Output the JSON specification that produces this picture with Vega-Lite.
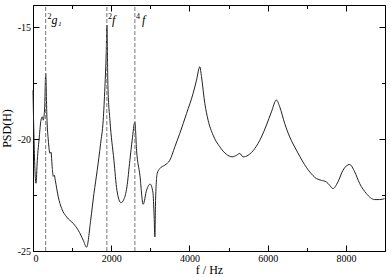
{
  "$schema": "https://vega.github.io/schema/vega-lite/v6.json",
  "width": 352,
  "height": 246,
  "autosize": {"type": "none"},
  "padding": {"left": 33, "top": 5, "right": 6, "bottom": 26},
  "background": "white",
  "config": {
    "view": {"stroke": "black", "strokeWidth": 1},
    "font": "Liberation Serif",
    "axis": {
      "domain": false,
      "grid": false,
      "labelFont": "Liberation Serif",
      "labelFontSize": 10,
      "labelColor": "black",
      "titleFont": "Liberation Serif",
      "titleFontSize": 12,
      "titleFontWeight": "normal",
      "titleColor": "black",
      "tickColor": "black",
      "tickWidth": 1
    }
  },
  "datasets": {
    "psd": [
      {"f": 0, "psd": -17.81}, {"f": 26, "psd": -20.04}, {"f": 77, "psd": -21.97},
      {"f": 110, "psd": -20.94}, {"f": 161, "psd": -19.9}, {"f": 204, "psd": -19.15},
      {"f": 238, "psd": -19.0}, {"f": 263, "psd": -19.15}, {"f": 299, "psd": -18.55},
      {"f": 324, "psd": -17.06}, {"f": 358, "psd": -19.15}, {"f": 391, "psd": -20.04},
      {"f": 434, "psd": -20.63}, {"f": 460, "psd": -20.58}, {"f": 493, "psd": -21.3},
      {"f": 518, "psd": -21.66}, {"f": 544, "psd": -21.61}, {"f": 570, "psd": -21.84},
      {"f": 646, "psd": -22.58}, {"f": 733, "psd": -23.1}, {"f": 861, "psd": -23.48},
      {"f": 1029, "psd": -23.77}, {"f": 1157, "psd": -24.07}, {"f": 1285, "psd": -24.52},
      {"f": 1371, "psd": -24.83}, {"f": 1474, "psd": -23.63}, {"f": 1558, "psd": -22.43},
      {"f": 1642, "psd": -21.39}, {"f": 1729, "psd": -20.19}, {"f": 1795, "psd": -19.15},
      {"f": 1839, "psd": -17.66}, {"f": 1872, "psd": -16.16}, {"f": 1890, "psd": -14.9},
      {"f": 1916, "psd": -17.66}, {"f": 1967, "psd": -19.15}, {"f": 2069, "psd": -20.94},
      {"f": 2145, "psd": -22.28}, {"f": 2248, "psd": -22.84}, {"f": 2324, "psd": -22.69},
      {"f": 2401, "psd": -22.14}, {"f": 2477, "psd": -20.94}, {"f": 2536, "psd": -20.04},
      {"f": 2605, "psd": -19.23}, {"f": 2648, "psd": -20.49}, {"f": 2733, "psd": -21.61},
      {"f": 2817, "psd": -22.91}, {"f": 2904, "psd": -22.28}, {"f": 2996, "psd": -22.01},
      {"f": 3065, "psd": -22.37}, {"f": 3098, "psd": -23.48}, {"f": 3116, "psd": -24.37},
      {"f": 3134, "psd": -22.73}, {"f": 3175, "psd": -21.54}, {"f": 3244, "psd": -21.31},
      {"f": 3371, "psd": -21.16}, {"f": 3499, "psd": -20.94}, {"f": 3627, "psd": -20.34},
      {"f": 3754, "psd": -19.74}, {"f": 3926, "psd": -18.85}, {"f": 4094, "psd": -17.95},
      {"f": 4181, "psd": -17.36}, {"f": 4265, "psd": -16.76}, {"f": 4308, "psd": -17.21},
      {"f": 4393, "psd": -18.4}, {"f": 4477, "psd": -19.15}, {"f": 4605, "psd": -19.82},
      {"f": 4776, "psd": -20.34}, {"f": 4947, "psd": -20.68}, {"f": 5090, "psd": -20.79},
      {"f": 5202, "psd": -20.72}, {"f": 5287, "psd": -20.64}, {"f": 5371, "psd": -20.79},
      {"f": 5499, "psd": -20.72}, {"f": 5670, "psd": -20.42}, {"f": 5841, "psd": -19.9},
      {"f": 5969, "psd": -19.37}, {"f": 6096, "psd": -18.78}, {"f": 6224, "psd": -18.25},
      {"f": 6308, "psd": -18.55}, {"f": 6436, "psd": -19.3}, {"f": 6564, "psd": -19.9},
      {"f": 6735, "psd": -20.49}, {"f": 6903, "psd": -21.02}, {"f": 7075, "psd": -21.46},
      {"f": 7246, "psd": -21.76}, {"f": 7373, "psd": -21.84}, {"f": 7501, "psd": -21.91},
      {"f": 7585, "psd": -22.06}, {"f": 7670, "psd": -22.21}, {"f": 7797, "psd": -21.91},
      {"f": 7925, "psd": -21.39}, {"f": 8096, "psd": -21.13}, {"f": 8224, "psd": -21.46},
      {"f": 8352, "psd": -21.98}, {"f": 8523, "psd": -22.43}, {"f": 8735, "psd": -22.7},
      {"f": 8863, "psd": -22.7}, {"f": 8990, "psd": -22.66}
    ],
    "lines": [
      {"f": 324, "name": "2g1", "supf": 372, "sup": "2", "mainf": 475, "main": "g₁"},
      {"f": 1888, "name": "2f", "supf": 1920, "sup": "2", "mainf": 2020, "main": "f"},
      {"f": 2605, "name": "4f", "supf": 2634, "sup": "4", "mainf": 2785, "main": "f"}
    ]
  },
  "resolve": {"axis": {"x": "independent", "y": "independent"}},
  "layer": [
    {
      "data": {"name": "psd"},
      "mark": {"type": "line", "color": "#222", "strokeWidth": 1, "interpolate": "monotone"},
      "encoding": {
        "x": {
          "field": "f", "type": "quantitative",
          "scale": {"domain": [0, 9000], "nice": false, "zero": false},
          "axis": {
            "orient": "bottom", "title": "f / Hz",
            "values": [0, 1000, 2000, 3000, 4000, 5000, 6000, 7000, 8000, 9000],
            "labelExpr": "datum.value % 2000 === 0 && datum.value < 9000 ? '' + datum.value : ''",
            "tickSize": {"condition": {"test": "datum.value % 2000 === 0", "value": -6}, "value": -3.5},
            "labelPadding": 8, "titlePadding": 1
          }
        },
        "y": {
          "field": "psd", "type": "quantitative",
          "scale": {"domain": [-25, -14], "nice": false, "zero": false},
          "axis": {
            "orient": "left", "title": "PSD(H)",
            "values": [-25, -22.5, -20, -17.5, -15],
            "labelExpr": "datum.value % 5 === 0 ? '' + datum.value : ''",
            "tickSize": {"condition": {"test": "datum.value % 5 === 0", "value": -6}, "value": -3.5},
            "labelPadding": 8.5, "titlePadding": 4
          }
        }
      }
    },
    {
      "data": {"name": "lines"},
      "mark": {"type": "rule", "color": "#777", "strokeWidth": 1, "strokeDash": [4, 2]},
      "encoding": {
        "x": {
          "field": "f", "type": "quantitative",
          "scale": {"domain": [0, 9000], "nice": false, "zero": false},
          "axis": {
            "orient": "top", "title": null, "labels": false,
            "values": [0, 1000, 2000, 3000, 4000, 5000, 6000, 7000, 8000, 9000],
            "tickSize": {"condition": {"test": "datum.value % 2000 === 0", "value": -6}, "value": -3.5}
          }
        },
        "y": {"datum": -25, "type": "quantitative",
          "axis": {
            "orient": "right", "title": null, "labels": false,
            "values": [-25, -22.5, -20, -17.5, -15],
            "tickSize": {"condition": {"test": "datum.value % 5 === 0", "value": -6}, "value": -3.5}
          }
        },
        "y2": {"datum": -14}
      }
    },
    {
      "data": {"name": "lines"},
      "mark": {"type": "text", "align": "left", "baseline": "alphabetic", "fontSize": 8, "font": "Liberation Serif", "fill": "black"},
      "encoding": {
        "x": {"field": "supf", "type": "quantitative", "axis": null},
        "y": {"datum": -14.62, "type": "quantitative", "axis": null},
        "text": {"field": "sup"}
      }
    },
    {
      "data": {"name": "lines"},
      "mark": {"type": "text", "align": "left", "baseline": "alphabetic", "fontSize": 12, "fontStyle": "italic", "font": "Liberation Serif", "fill": "black"},
      "encoding": {
        "x": {"field": "mainf", "type": "quantitative", "axis": null},
        "y": {"datum": -14.85, "type": "quantitative", "axis": null},
        "text": {"field": "main"}
      }
    }
  ]
}
